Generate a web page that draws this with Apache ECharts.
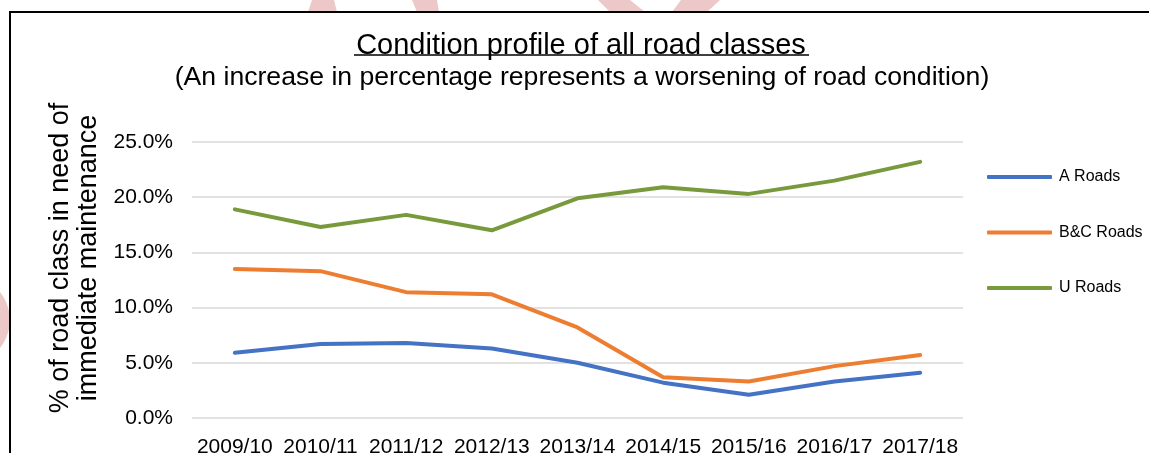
<!DOCTYPE html>
<head>
    <meta charset="utf-8">
    <title>Condition profile of all road classes</title>
    <style>
        body { margin: 0; background: #fff; }
        #chart { width: 1149px; height: 453px; }
    </style>
</head>
<body>
    <div id="chart"></div>

    <script src="https://cdn.jsdelivr.net/npm/echarts@6/dist/echarts.min.js"></script>
    <script type="text/javascript">

    // data (percent)
    var years = ['2009/10', '2010/11', '2011/12', '2012/13', '2013/14', '2014/15', '2015/16', '2016/17', '2017/18'];
    var aRoads = [5.9, 6.7, 6.8, 6.3, 5.0, 3.2, 2.1, 3.3, 4.1];
    var bcRoads = [13.5, 13.3, 11.4, 11.2, 8.2, 3.7, 3.3, 4.7, 5.7];
    var uRoads = [18.9, 17.3, 18.4, 17.0, 19.9, 20.9, 20.3, 21.5, 23.2];
    var seriesNames = ['A Roads', 'B&C Roads', 'U Roads'];

    var font = 'Liberation Sans, Arial, sans-serif';
    var pink = '#ecc8c8';

    var myChart = echarts.init(document.getElementById('chart'));

    myChart.setOption(
        option = {
            animation: false,
            backgroundColor: '#fff',
            color: ['#4472c4', '#ed7d31', '#789a3c'],
            textStyle: { fontFamily: font },
            title: [
                {
                    text: 'Condition profile of all road classes',
                    left: 576,
                    textAlign: 'center',
                    top: 26,
                    textStyle: { fontSize: 29, fontWeight: 'normal', color: '#000', fontFamily: font }
                },
                {
                    text: '(An increase in percentage represents a worsening of road condition)',
                    left: 577,
                    textAlign: 'center',
                    top: 59,
                    textStyle: { fontSize: 26.6, fontWeight: 'normal', color: '#000', fontFamily: font }
                }
            ],
            // slide border, title underline and the watermark bits peeking out
            graphic: [
                {
                    type: 'polygon', z: -1, silent: true,
                    shape: { points: [[308, 12], [312, 0], [334, 0], [337, 12]] },
                    style: { fill: pink }
                },
                {
                    type: 'polygon', z: -1, silent: true,
                    shape: { points: [[412, 0], [437, 0], [439, 12], [417, 12]] },
                    style: { fill: pink }
                },
                {
                    type: 'polygon', z: -1, silent: true,
                    shape: { points: [[598, 0], [630, 0], [645, 12], [610, 12]] },
                    style: { fill: pink }
                },
                {
                    type: 'polygon', z: -1, silent: true,
                    shape: { points: [[681, 0], [720, 0], [707, 12], [672, 12]] },
                    style: { fill: pink }
                },
                {
                    type: 'circle', z: -1, silent: true,
                    shape: { cx: -34, cy: 320, r: 44 },
                    style: { fill: pink }
                },
                {
                    type: 'rect', z: 0, silent: true,
                    shape: { x: 10, y: 12, width: 1160, height: 480 },
                    style: { fill: 'none', stroke: '#000', lineWidth: 2 }
                },
                {
                    type: 'line', silent: true,
                    shape: { x1: 354, y1: 55, x2: 809, y2: 55 },
                    style: { stroke: '#000', lineWidth: 1.5 }
                }
            ],
            legend: {
                data: seriesNames,
                orient: 'vertical',
                left: 987,
                top: 168,
                padding: 0,
                itemWidth: 65,
                itemHeight: 4,
                itemGap: 37.5,
                icon: 'roundRect',
                textStyle: { fontSize: 16, lineHeight: 18, color: '#000', fontFamily: font, padding: [0, 0, 0, 2] }
            },
            grid: {
                left: 192,
                top: 142,
                width: 771,
                height: 276,
                outerBoundsMode: 'none',
                containLabel: false
            },
            xAxis: {
                type: 'category',
                data: years,
                boundaryGap: true,
                axisLine: { show: false },
                axisTick: { show: false },
                axisLabel: { fontSize: 21, color: '#000', margin: 19, interval: 0 }
            },
            yAxis: {
                type: 'value',
                min: 0,
                max: 25,
                interval: 5,
                name: '% of road class in need of\nimmediate maintenance',
                nameLocation: 'middle',
                nameRotate: 90,
                nameGap: 87,
                nameTextStyle: {
                    fontSize: 27, lineHeight: 28, color: '#000', fontFamily: font,
                    padding: [0, 0, 0, 44]
                },
                axisLine: { show: false },
                axisTick: { show: false },
                axisLabel: {
                    fontSize: 21,
                    color: '#000',
                    margin: 19,
                    formatter: function (v) { return v.toFixed(1) + '%'; }
                },
                splitLine: { lineStyle: { color: '#d9d9d9', width: 1.5 } }
            },
            series: [
                {
                    name: 'A Roads',
                    type: 'line',
                    data: aRoads,
                    symbol: 'none',
                    lineStyle: { width: 4, cap: 'round', join: 'round' }
                },
                {
                    name: 'B&C Roads',
                    type: 'line',
                    data: bcRoads,
                    symbol: 'none',
                    lineStyle: { width: 4, cap: 'round', join: 'round' }
                },
                {
                    name: 'U Roads',
                    type: 'line',
                    data: uRoads,
                    symbol: 'none',
                    lineStyle: { width: 4, cap: 'round', join: 'round' }
                }
            ]
        });

    </script>
</body>
